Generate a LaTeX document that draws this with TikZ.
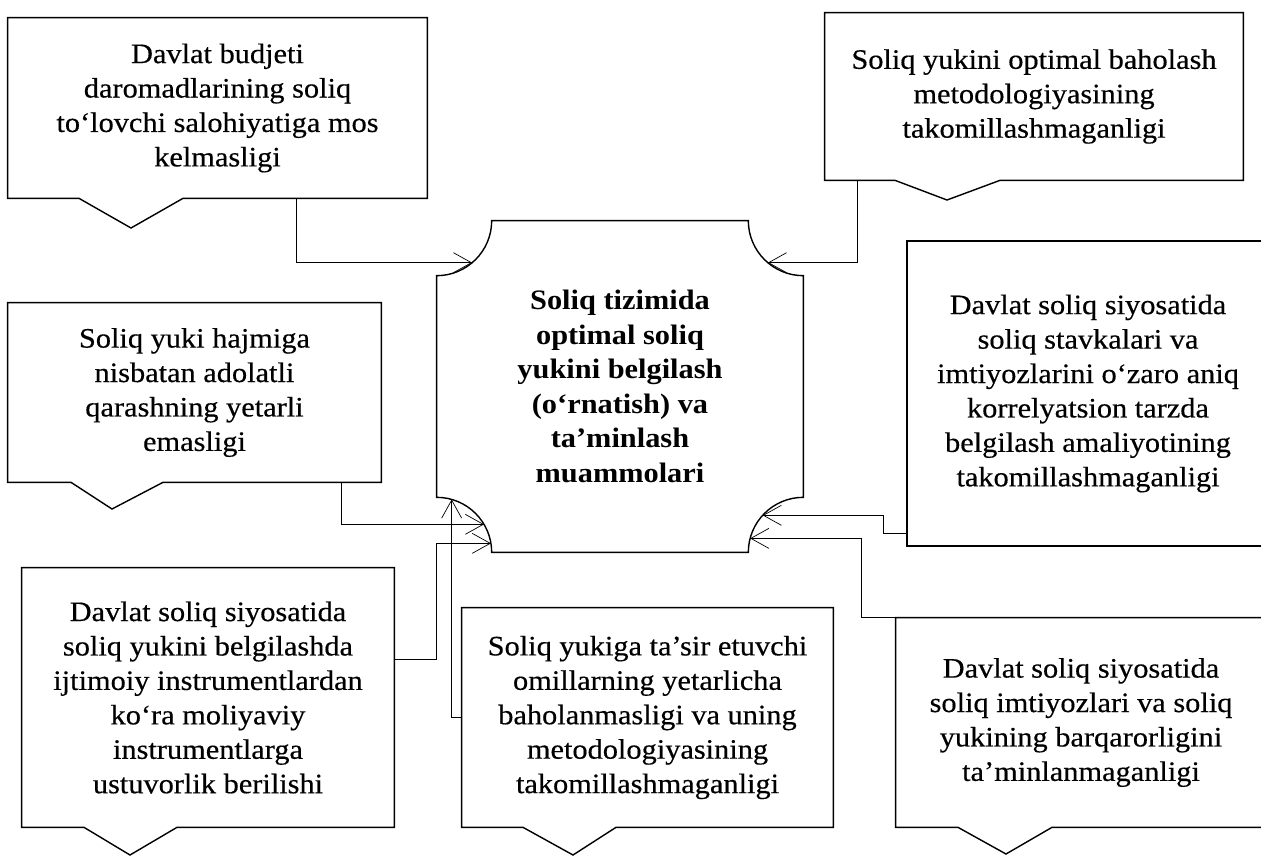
\documentclass[tikz,border=0pt]{standalone}
\usepackage{fontspec}
\setmainfont{Liberation Serif}[FakeStretch=1.08,UprightFeatures={FakeBold=0.4}]
\usetikzlibrary{arrows.meta,calc}
\newcommand\calloutline[5]{%
  \draw[boxline] (#1.south -| #2,0) -- (#1.south west) -- (#1.north west) -- (#1.north east)
    -- (#1.south east) -- (#1.south -| #3,0) -- (#4,#5) -- cycle;}
\tikzset{
  boxline/.style={line width=0.8pt, line join=miter},
  conn/.style={line width=0.4pt, -{Straight Barb[length=0.36cm,width=0.4cm,line width=0.4pt]}},
  txtnode/.style={font=\fontsize{16}{19.6}\selectfont, align=center, inner sep=0pt},
}
\begin{document}
\begin{tikzpicture}[x=0.02cm,y=-0.02cm]
\useasboundingbox (0,0) rectangle (1261,856);
\fill[white] (0,0) rectangle (1261,856);
\clip (0,0) rectangle (1261,856);

% centre
\node[txtnode, font=\fontsize{16}{19.6}\selectfont\bfseries, minimum width=7.32cm, minimum height=6.62cm] (c) at (620,386.5)
  {Soliq tizimida\\optimal soliq\\yukini belgilash\\(o‘rnatish) va\\ta’minlash\\muammolari};
\draw[boxline] ($(c.north west)+(1.1cm,0)$) -- ($(c.north east)+(-1.1cm,0)$)
  arc[start angle=180,end angle=270,radius=1.1cm] -- ($(c.south east)+(0,1.1cm)$)
  arc[start angle=90,end angle=180,radius=1.1cm] -- ($(c.south west)+(1.1cm,0)$)
  arc[start angle=0,end angle=90,radius=1.1cm] -- ($(c.north west)+(0,-1.1cm)$)
  arc[start angle=270,end angle=360,radius=1.1cm] -- cycle;

% boxes
\node[txtnode, minimum width=8.38cm, minimum height=3.6cm] (b1) at (217.5,108)
  {Davlat budjeti\\daromadlarining soliq\\to‘lovchi salohiyatiga mos\\kelmasligi};
\calloutline{b1}{79}{183}{131}{228}

\node[txtnode, minimum width=8.36cm, minimum height=3.34cm] (b2) at (1034,96.5)
  {Soliq yukini optimal baholash\\metodologiyasining\\takomillashmaganligi};
\calloutline{b2}{895}{1000}{947}{200}

\node[txtnode, minimum width=7.46cm, minimum height=3.58cm] (b3) at (194.5,392.5)
  {Soliq yuki hajmiga\\nisbatan adolatli\\qarashning yetarli\\emasligi};
\calloutline{b3}{71}{163}{112}{509}

\node[txtnode, minimum width=7.44cm, minimum height=5.18cm] (b4) at (208,697.5)
  {Davlat soliq siyosatida\\soliq yukini belgilashda\\ijtimoiy instrumentlardan\\ko‘ra moliyaviy\\instrumentlarga\\ustuvorlik berilishi};
\calloutline{b4}{84}{177}{130}{855}

\node[txtnode, minimum width=7.42cm, minimum height=4.38cm] (b5) at (647.5,717.5)
  {Soliq yukiga ta’sir etuvchi\\omillarning yetarlicha\\baholanmasligi va uning\\metodologiyasining\\takomillashmaganligi};
\calloutline{b5}{523}{616}{573}{855}

\node[txtnode, boxline, draw, minimum width=7.24cm, minimum height=6.1cm] (b7) at (1088,393.5)
  {Davlat soliq siyosatida\\soliq stavkalari va\\imtiyozlarini o‘zaro aniq\\korrelyatsion tarzda\\belgilash amaliyotining\\takomillashmaganligi};

\node[txtnode, minimum width=7.4cm, minimum height=4.18cm] (b8) at (1081,722.5)
  {Davlat soliq siyosatida\\soliq imtiyozlari va soliq\\yukining barqarorligini\\ta’minlanmaganligi};
\calloutline{b8}{958}{1052}{1006}{854}

% arrow tips on the concave corners
\coordinate (t1) at ($(c.north west)+(-49.8:1.1cm)$);
\coordinate (t2) at ($(c.north east)+(229.8:1.1cm)$);
\coordinate (t3) at ($(c.south west)+(30.6:1.1cm)$);
\coordinate (t4) at ($(c.south west)+(9.4:1.1cm)$);
\coordinate (t5) at ($(c.south west)+(74.2:1.1cm)$);
\coordinate (t6) at ($(c.south east)+(137.7:1.1cm)$);
\coordinate (t7) at ($(c.south east)+(165.3:1.1cm)$);

% connectors
\draw[conn] (b1.south -| 296,0) |- (t1);
\draw[conn] (b2.south -| 857,0) |- (t2);
\draw[conn] (b3.south -| 341,0) |- (t3);
\draw[conn] (b4.east |- 0,659) -- (436,659) |- (t4);
\draw[conn] (b5.west |- 0,717) -| (t5);
\draw[conn] (b7.west |- 0,533) -- (883,533) |- (t6);
\draw[conn] (b8.north -| 920,0) -- (b8.north -| 861,0) |- (t7);
\end{tikzpicture}
\end{document}
